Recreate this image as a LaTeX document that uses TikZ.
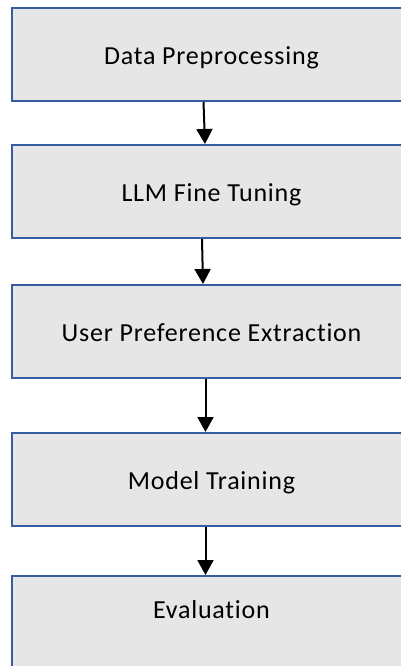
\documentclass[tikz,border=0pt]{standalone}
\usepackage{fontspec}
\setmainfont{Carlito}[Ligatures={NoCommon},LetterSpace=3]
\usetikzlibrary{arrows.meta}
\definecolor{boxline}{HTML}{365CA4}
\definecolor{boxfill}{HTML}{E6E6E6}
\begin{document}
\begin{tikzpicture}[x=1pt,y=-1pt,
  txt/.style={font=\fontsize{26}{30}\selectfont,text height=20pt,text depth=0pt},
  stage/.style={draw=boxline,fill=boxfill,line width=2pt,minimum width=400pt,minimum height=93pt,inner sep=0pt,txt},
  flow/.style={line width=2pt,-{Triangle[width=16pt,length=15pt]}}]
\useasboundingbox (0,0) rectangle (401,666);
\clip (0,0) rectangle (401,666);
\fill[white] (0,0) rectangle (401,666);
\node[stage] (b1) at (211.5,54.5) {Data Preprocessing};
\node[stage] (b2) at (211.5,191.5) {LLM Fine Tuning};
\node[stage] (b3) at (211.5,331.5) {User Preference Extraction};
\node[stage] (b4) at (211.5,479.5) {Model Training};
\node[stage,label={[txt,inner sep=0pt,yshift=14.5pt]center:Evaluation}] (b5) at (211.5,622.5) {};
\draw[flow] ([xshift=-8pt]b1.south) -- ([xshift=-6.5pt]b2.north);
\draw[flow] ([xshift=-9.5pt]b2.south) -- ([xshift=-8.5pt]b3.north);
\draw[flow] ([xshift=-6pt]b3.south) -- ([xshift=-6pt]b4.north);
\draw[flow] ([xshift=-6pt]b4.south) -- ([xshift=-6pt]b5.north);
\end{tikzpicture}
\end{document}
